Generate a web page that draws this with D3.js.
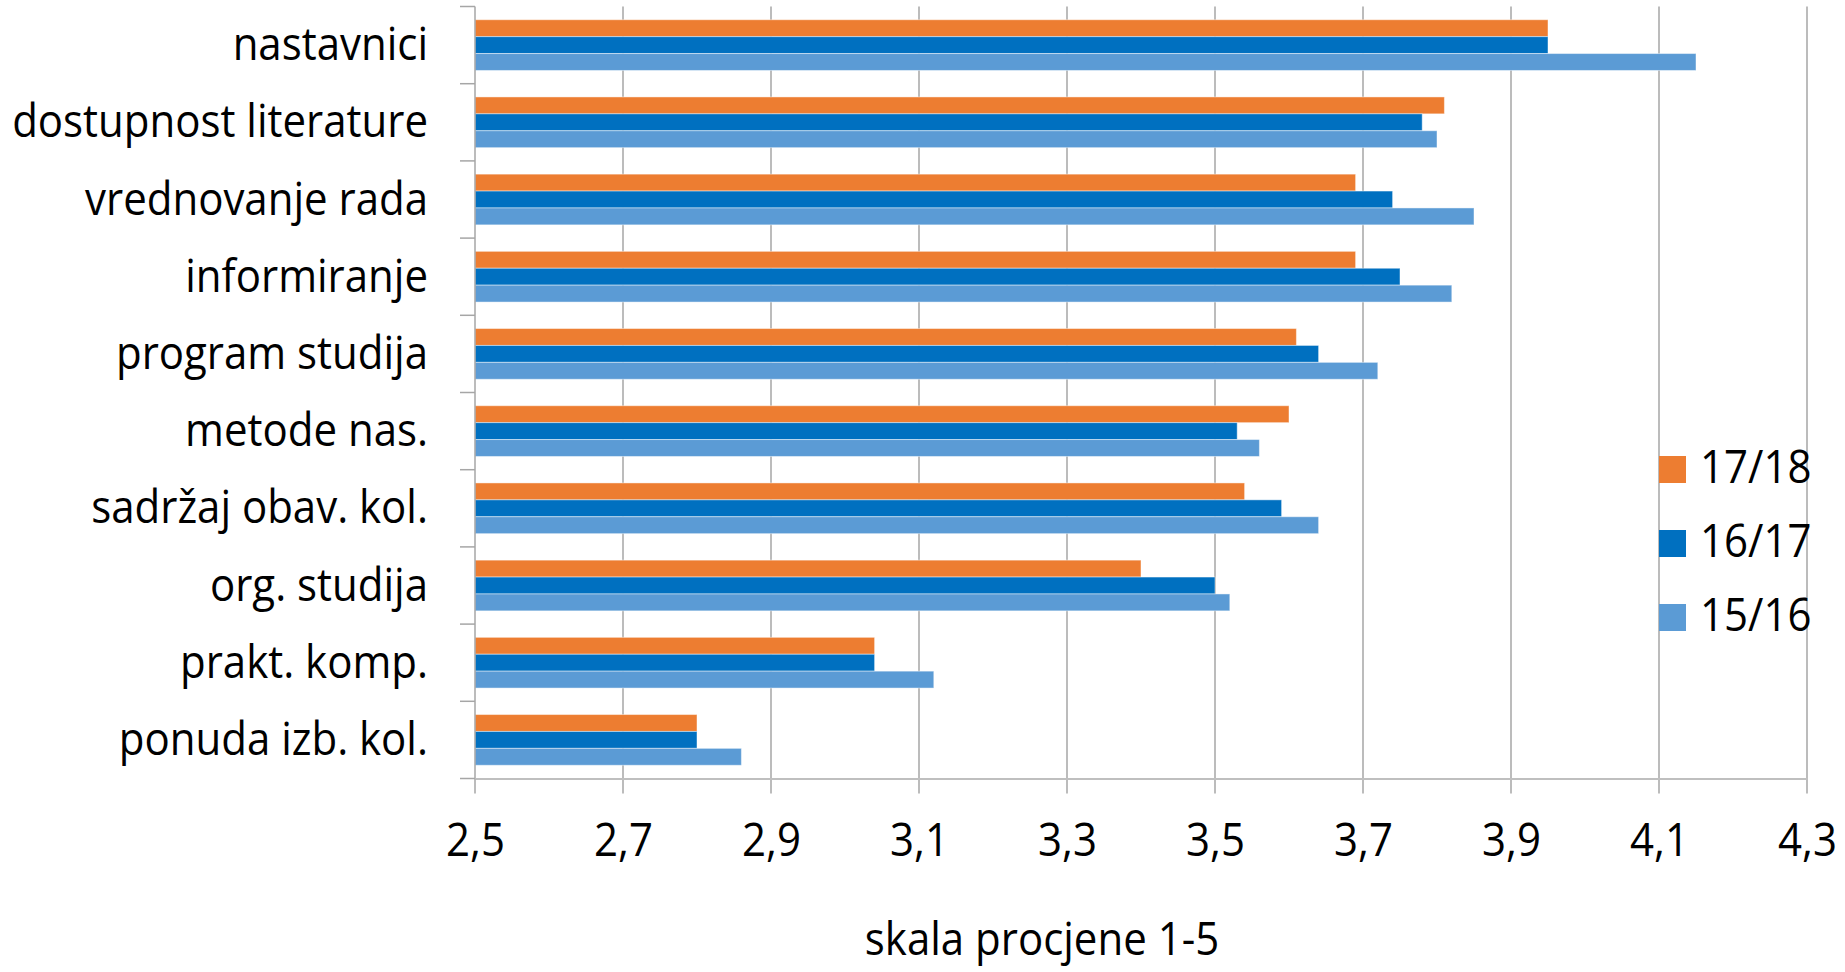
<!DOCTYPE html>
<html lang="hr">
<head>
    <meta charset="UTF-8">
    <script src="https://cdn.jsdelivr.net/npm/d3@7"></script>
    <title>skala procjene</title>
    <style>
        body { margin: 0; background: #fff; }
        text { font-family: "Open Sans", sans-serif; fill: #000; }
    </style>
</head>
<body>
<script>
var width = 1845,
    height = 972;

// podaci
var categories = ["nastavnici", "dostupnost literature", "vrednovanje rada", "informiranje",
    "program studija", "metode nas.", "sadržaj obav. kol.", "org. studija", "prakt. komp.", "ponuda izb. kol."];
var seriesNames = ["17/18", "16/17", "15/16"];
var s1718 = [3.95, 3.81, 3.69, 3.69, 3.61, 3.60, 3.54, 3.40, 3.04, 2.80];
var s1617 = [3.95, 3.78, 3.74, 3.75, 3.64, 3.53, 3.59, 3.50, 3.04, 2.80];
var s1516 = [4.15, 3.80, 3.85, 3.82, 3.72, 3.56, 3.64, 3.52, 3.12, 2.86];
var xTicks = [2.5, 2.7, 2.9, 3.1, 3.3, 3.5, 3.7, 3.9, 4.1, 4.3];
var xTitle = "skala procjene 1-5";

var colors = ["#ED7D31", "#0070C0", "#5B9BD5"];
var values = [s1718, s1617, s1516];

var plot = {left: 475, right: 1807, top: 6.5, bottom: 778.5};
var stretch = 1.1; // slova u originalu su malo izduzena

var svg = d3.select("body").append("svg")
    .attr("width", width).attr("height", height);

var x = d3.scaleLinear().domain([2.5, 4.3]).range([plot.left, plot.right]);
var y = d3.scaleBand().domain(categories).range([plot.top, plot.bottom])
    .paddingInner(0.343).paddingOuter(0.1715);
var ySub = d3.scaleBand().domain(seriesNames).range([0, y.bandwidth()]);

function tall(sel, px, py){
    sel.attr("transform", function(d, i){
        return "translate(" + px(d, i) + "," + py(d, i) + ") scale(1," + stretch + ")";
    });
}

// vertikalne linije mreze (produzene ispod osi kao oznake)
svg.append("g").selectAll("line").data(xTicks.slice(1))
    .enter()
    .append("line")
    .attr("x1", function(d){ return x(d); })
    .attr("x2", function(d){ return x(d); })
    .attr("y1", plot.top)
    .attr("y2", plot.bottom + 15)
    .attr("stroke", "#a6a6a6")
    .attr("stroke-width", 1.5);

// stupci
var rows = [];
categories.forEach(function(c, i){
    seriesNames.forEach(function(s, j){
        rows.push({cat: c, series: s, value: values[j][i], color: colors[j]});
    });
});

svg.append("g").selectAll("rect").data(rows)
    .enter()
    .append("rect")
    .attr("x", x(2.5))
    .attr("y", function(d){ return y(d.cat) + ySub(d.series); })
    .attr("width", function(d){ return x(d.value) - x(2.5); })
    .attr("height", ySub.bandwidth())
    .attr("fill", function(d){ return d.color; })
    .attr("stroke", "rgba(255,255,255,0.45)")
    .attr("stroke-width", 1);

// os x
var xAxis = d3.axisBottom(x).tickValues(xTicks).tickSize(0).tickPadding(0)
    .tickFormat(function(d){ return d3.format(".1f")(d).replace(".", ","); });
var gx = svg.append("g").attr("transform", "translate(0," + plot.bottom + ")").call(xAxis);
gx.select(".domain").attr("stroke", "#bfbfbf").attr("stroke-width", 2);
gx.selectAll("text")
    .attr("y", 0)
    .attr("dy", 0)
    .attr("transform", "translate(0,77) scale(1," + stretch + ")")
    .style("font-family", "'Open Sans', sans-serif")
    .style("font-size", "42px")
    .attr("fill", "#000");
svg.append("line")
    .attr("x1", x(2.5)).attr("x2", x(2.5))
    .attr("y1", plot.bottom).attr("y2", plot.bottom + 15)
    .attr("stroke", "#a6a6a6").attr("stroke-width", 1.5);

// os y
var yBounds = d3.range(categories.length + 1).map(function(i){ return plot.top + i * y.step(); });
svg.append("line")
    .attr("x1", plot.left).attr("x2", plot.left)
    .attr("y1", plot.top).attr("y2", plot.bottom)
    .attr("stroke", "#a6a6a6").attr("stroke-width", 1.5);
svg.append("g").selectAll("line").data(yBounds)
    .enter()
    .append("line")
    .attr("x1", plot.left - 15).attr("x2", plot.left)
    .attr("y1", function(d){ return d; })
    .attr("y2", function(d){ return d; })
    .attr("stroke", "#a6a6a6").attr("stroke-width", 1.5);

svg.append("g").selectAll("text").data(categories)
    .enter()
    .append("text")
    .attr("text-anchor", "end")
    .attr("font-size", "42px")
    .call(tall, function(){ return 428; },
        function(d){ return y(d) + y.bandwidth() / 2 + 15; })
    .text(function(d){ return d; });

// naslov osi
svg.append("text")
    .attr("text-anchor", "middle")
    .attr("font-size", "42px")
    .call(tall, function(){ return 1042; }, function(){ return 955; })
    .text(xTitle);

// legenda
var legend = svg.append("g").selectAll("g").data(seriesNames)
    .enter()
    .append("g")
    .attr("transform", function(d, i){ return "translate(1659," + (456 + i * 74) + ")"; });
legend.append("rect")
    .attr("width", 27).attr("height", 27)
    .attr("fill", function(d, i){ return colors[i]; });
legend.append("text")
    .attr("font-size", "42px")
    .call(tall, function(){ return 41; }, function(){ return 27; })
    .text(function(d){ return d; });
</script>
</body>
</html>
